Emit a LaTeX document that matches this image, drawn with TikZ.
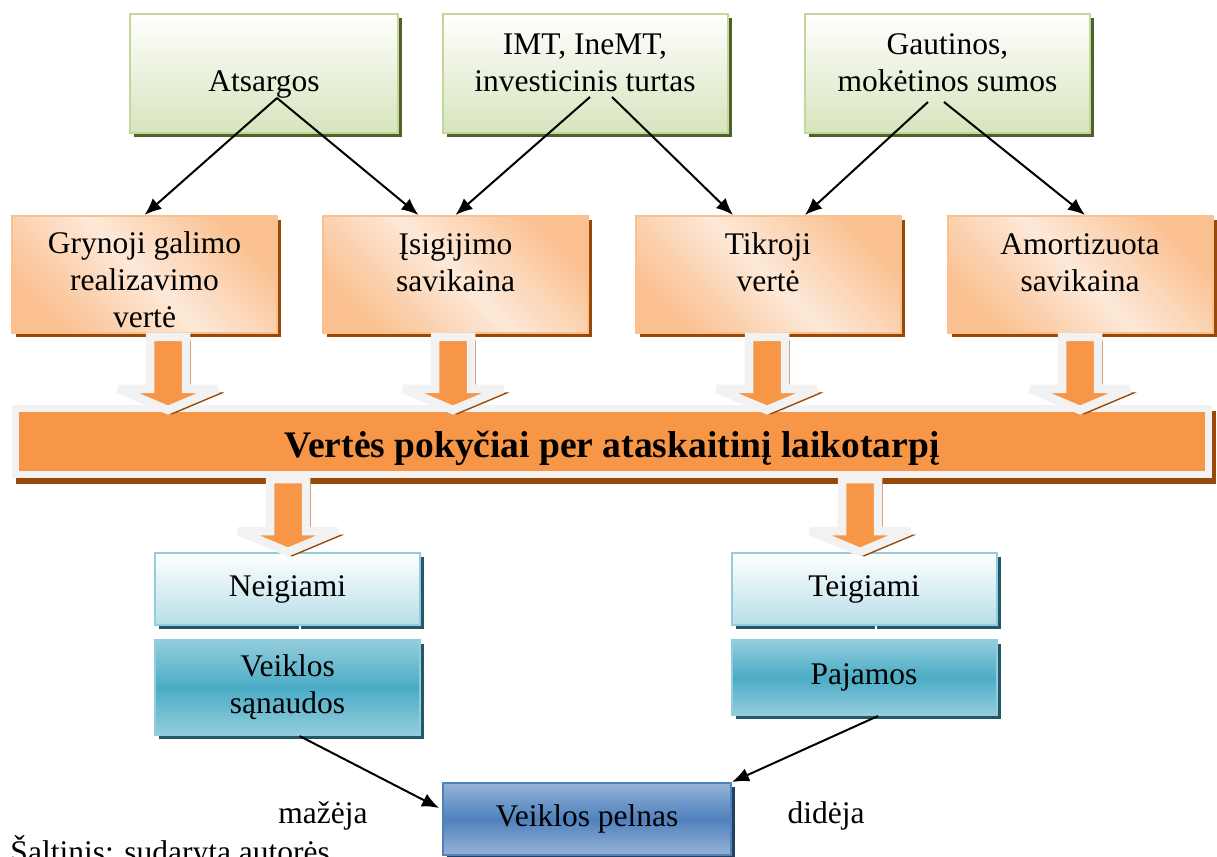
\documentclass[tikz,border=0pt]{standalone}
\usepackage{fontspec}
\setmainfont{Liberation Serif}
\usetikzlibrary{shadows}
\usetikzlibrary{calc}
\usetikzlibrary{arrows.meta}
\usetikzlibrary{positioning}

\definecolor{grnfill}{HTML}{D7E4BD}
\definecolor{grnline}{HTML}{C3D69B}
\definecolor{grnshade}{HTML}{4F6228}
\definecolor{ordark}{HTML}{FAC090}
\definecolor{orlight}{HTML}{FDE9D9}
\definecolor{orshade}{HTML}{984807}
\definecolor{arrfill}{HTML}{F79646}
\definecolor{arrline}{HTML}{F2F2F2}
\definecolor{ltbfill}{HTML}{B7DEE8}
\definecolor{ltbline}{HTML}{93CDDD}
\definecolor{tealmid}{HTML}{4BACC6}
\definecolor{tealshade}{HTML}{215968}
\definecolor{bluemid}{HTML}{4F81BD}
\definecolor{bluelight}{HTML}{95B3D7}
\definecolor{blueshade}{HTML}{243F60}

\tikzset{
  box/.style={align=center, font=\fontsize{12.6}{14.8}\selectfont, line width=0.8pt, inner sep=2pt},
  greenbox/.style={box, draw=grnline, top color=white, bottom color=grnfill, minimum height=47.6pt,
    text height=17.4pt, text depth=3pt,
    drop shadow={shadow xshift=1.6pt, shadow yshift=-1.6pt, fill=grnshade, opacity=1}},
  orangebox/.style={box, draw=ordark, top color=ordark, bottom color=ordark, middle color=orlight,
    shading angle=-45, minimum width=106pt, minimum height=46.8pt,
    text height=16.2pt, text depth=2.2pt,
    drop shadow={shadow xshift=1.6pt, shadow yshift=-1.6pt, fill=orshade, opacity=1}},
  lightbox/.style={box, draw=ltbline, top color=white, bottom color=ltbfill, minimum width=106pt, minimum height=28.8pt,
    drop shadow={shadow xshift=1.6pt, shadow yshift=-1.6pt, fill=tealshade, opacity=1}},
  tealbox/.style={box, draw=ltbline, top color=ltbline, bottom color=ltbline, middle color=tealmid, minimum width=106pt,
    drop shadow={shadow xshift=1.6pt, shadow yshift=-1.6pt, fill=tealshade, opacity=1}},
  bluebox/.style={box, draw=bluemid, top color=bluelight, bottom color=bluelight, middle color=bluemid,
    minimum width=115.2pt, minimum height=28.8pt,
    drop shadow={shadow xshift=1.6pt, shadow yshift=-1.6pt, fill=blueshade, opacity=1}},
  bigbar/.style={draw=arrline, fill=arrfill, line width=2.8pt, minimum width=477.2pt, minimum height=26.4pt,
    font=\bfseries\fontsize{15}{18}\selectfont, text height=15pt, text depth=1.8pt,
    preaction={draw=orshade, fill=orshade, transform canvas={shift={(1.6pt,-2.4pt)}}}},
  fatarrow/.style={draw=arrline, fill=arrfill, line width=3.4pt, miter limit=2,
    preaction={draw=orshade, fill=orshade, transform canvas={shift={(1.6pt,-1.6pt)}}}},
  link/.style={draw=black, line width=0.8pt, -{Latex[length=6.8pt,width=5.6pt]}},
  whitelink/.style={draw=white, line width=0.8pt, -{Latex[length=3pt,width=3pt]}},
  plain/.style={font=\fontsize{12.6}{14.8}\selectfont, inner sep=0pt}
}

\begin{document}
\begin{tikzpicture}[x=0.4pt,y=-0.4pt]
  \useasboundingbox (0,0) rectangle (1217,857);

  % top row
  \node[greenbox, minimum width=107.2pt] (ats) at (264,73.5) {Atsargos};
  \node[greenbox, minimum width=114pt] (imt) at (585,73.5) {IMT, IneMT,\\investicinis turtas};
  \node[greenbox, minimum width=114pt] (gaut) at (947.5,73.5) {Gautinos,\\mokėtinos sumos};

  % valuation bases
  \node[orangebox, text height=43.6pt, text depth=0.8pt, inner ysep=1pt] (gryn) at (144.5,274.5) {Grynoji galimo\\realizavimo\\vertė};
  \node[orangebox] (isig) at (455.5,274.5) {Įsigijimo\\savikaina};
  \node[orangebox] (tikr) at (768,274.5) {Tikroji\\vertė};
  \node[orangebox] (amor) at (1080,274.5) {Amortizuota\\savikaina};

  \node[bigbar] (pok) at (612,441.5) {Vertės pokyčiai per ataskaitinį laikotarpį};

  % lower part
  \node[lightbox] (neg) at (287.5,589) {Neigiami};
  \node[lightbox] (teig) at (864,589) {Teigiami};
  \node[tealbox, minimum height=38pt] (san) at (287.5,687.5) {Veiklos\\sąnaudos};
  \node[tealbox, minimum height=30pt] (paj) at (864,677.5) {Pajamos};
  \node[bluebox] (pel) at (587,819) {Veiklos pelnas};

  % block arrows
  \foreach \cx/\ytop in {168/337, 453/337, 767/337, 1080/337, 288/479, 860/479}
    \draw[fatarrow] (\cx-18,\ytop) -- (\cx+18,\ytop) -- (\cx+18,\ytop+52) -- (\cx+50,\ytop+52)
      -- (\cx,\ytop+73) -- (\cx-50,\ytop+52) -- (\cx-18,\ytop+52) -- cycle;

  % connectors
  \coordinate (ats-o) at (277,98);
  \coordinate (imt-l) at (590,97);
  \coordinate (imt-r) at (612,97);
  \coordinate (gaut-l) at (928,102);
  \coordinate (gaut-r) at (944,102);
  \path (ats-o) edge[link] (gryn.north);
  \path (ats-o) edge[link] ($(isig.north)+(-37,0)$);
  \path (imt-l) edge[link] (isig.north);
  \path (imt-r) edge[link] ($(tikr.north)+(-35,0)$);
  \path (gaut-l) edge[link] ($(tikr.north)+(37,0)$);
  \path (gaut-r) edge[link] ($(amor.north)+(5,0)$);
  \path ($(neg.south)+(12,0)$) edge[whitelink] ($(san.north)+(12,0)$);
  \path ($(teig.south)+(12,0)$) edge[whitelink] ($(paj.north)+(12,0)$);
  \path ($(san.south)+(12,0)$) edge[link] ($(pel.west)+(-3,-11)$);
  \path ($(paj.south)+(14,0)$) edge[link] (pel.north east);

  % labels
  \node[plain, anchor=base] (maz) at (323,823) {mažėja};
  \node[plain, anchor=base] (did) at (826,823) {didėja};
  \node[plain, anchor=base west] (salt) at (10,862) {Šaltinis: sudaryta autorės};
\end{tikzpicture}
\end{document}
